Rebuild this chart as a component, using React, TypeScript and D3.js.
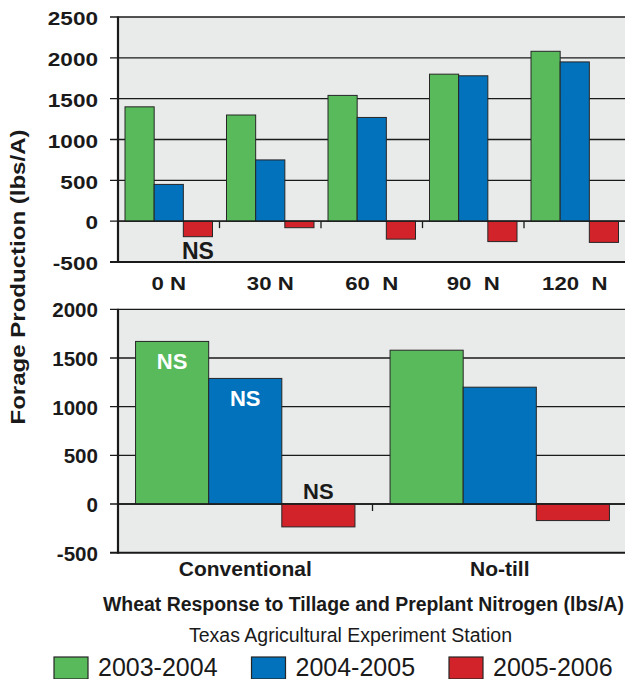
import React from "react";
import * as d3 from "d3";

const series = ["2003-2004", "2004-2005", "2005-2006"];
const seriesColors = ["#58BA5B", "#0172BB", "#D2232A"];

const topCategories = ["0 N", "30 N", "60  N", "90  N", "120  N"];
const top2003 = [1400, 1300, 1540, 1800, 2080];
const top2004 = [450, 750, 1270, 1780, 1950];
const top2005 = [-190, -80, -220, -250, -260];
const topTicks = [-500, 0, 500, 1000, 1500, 2000, 2500];

const bottomCategories = ["Conventional", "No-till"];
const bottom2003 = [1670, 1580];
const bottom2004 = [1290, 1200];
const bottom2005 = [-235, -170];
const bottomTicks = [-500, 0, 500, 1000, 1500, 2000];

// significance annotations: [panel, category index, series index, placement]
const nsTop = [{ cat: 0, ser: 2, place: "below", color: "#1a1a1a" }];
const nsBottom = [
  { cat: 0, ser: 0, place: "inside", color: "#ffffff" },
  { cat: 0, ser: 1, place: "inside", color: "#ffffff" },
  { cat: 0, ser: 2, place: "above0", color: "#1a1a1a" },
];

const yTitle = "Forage Production (lbs/A)";
const title = "Wheat Response to Tillage and Preplant Nitrogen (lbs/A)";
const subtitle = "Texas Agricultural Experiment Station";

const FONT = "'Liberation Sans', Arial, Helvetica, sans-serif";
const INK = "#1a1a1a";

type PanelProps = {
  cats: string[];
  values: number[][];
  ticks: number[];
  x0: number;
  x1: number;
  yTop: number;
  yBot: number;
  tickFont: number;
  tickScale: number;
  tickDy: number;
  labelFont: number;
  labelScale: number;
  labelY: number;
  ns: { cat: number; ser: number; place: string; color: string }[];
  nsFont: number;
};

function Panel(p: PanelProps) {
  const y = d3
    .scaleLinear()
    .domain([p.ticks[0], p.ticks[p.ticks.length - 1]])
    .range([p.yBot, p.yTop]);
  const x = d3.scaleBand<string>().domain(p.cats).range([p.x0, p.x1]).padding(0);
  const xs = d3
    .scaleBand<string>()
    .domain(series)
    .range([0, x.bandwidth()])
    .paddingInner(0)
    .paddingOuter(0.24);
  const y0 = y(0);
  return (
    <g>
      <rect x={p.x0} y={p.yTop} width={p.x1 - p.x0} height={p.yBot - p.yTop} fill="#E9EAEA" />
      {p.ticks.map((t) => (
        <line
          key={"g" + t}
          x1={p.x0 - 8}
          x2={p.x1}
          y1={y(t)}
          y2={y(t)}
          stroke={INK}
          strokeWidth={t === p.ticks[0] ? 2 : 1.3}
        />
      ))}
      {p.cats.slice(1).map((c) => (
        <line key={"t" + c} x1={x(c)} x2={x(c)} y1={y0} y2={y0 + 7} stroke={INK} strokeWidth={1.3} />
      ))}
      {p.cats.map((c, ci) =>
        series.map((s, si) => {
          const v = p.values[si][ci];
          const bx = (x(c) as number) + (xs(s) as number);
          return (
            <rect
              key={c + s}
              x={bx}
              y={Math.min(y(v), y0)}
              width={xs.bandwidth()}
              height={Math.abs(y(v) - y0)}
              fill={seriesColors[si]}
              stroke="#262626"
              strokeWidth={1}
            />
          );
        })
      )}
      <line x1={p.x0} x2={p.x1} y1={y0} y2={y0} stroke={INK} strokeWidth={1.3} />
      <line x1={p.x0} x2={p.x0} y1={p.yTop - 0.5} y2={p.yBot + 1} stroke={INK} strokeWidth={2.2} />
      {p.ticks.map((t) => (
        <text
          key={"l" + t}
          transform={`translate(${p.x0 - 20},${y(t) + p.tickDy}) scale(${p.tickScale},1)`}
          textAnchor="end"
          fontFamily={FONT}
          fontWeight="bold"
          fontSize={p.tickFont}
          fill={INK}
        >
          {t}
        </text>
      ))}
      {p.cats.map((c) => (
        <text
          key={"c" + c}
          transform={`translate(${(x(c) as number) + x.bandwidth() / 2},${p.labelY}) scale(${p.labelScale},1)`}
          textAnchor="middle"
          fontFamily={FONT}
          fontWeight="bold"
          fontSize={p.labelFont}
          fill={INK}
          style={{ whiteSpace: "pre" }}
        >
          {c}
        </text>
      ))}
      {p.ns.map((n, i) => {
        const c = p.cats[n.cat];
        const s = series[n.ser];
        const v = p.values[n.ser][n.cat];
        const cx = (x(c) as number) + (xs(s) as number) + xs.bandwidth() / 2;
        let ty = y0;
        if (n.place === "below") ty = y(v) + 22;
        else if (n.place === "inside") ty = y(v) + 27.5;
        else ty = y0 - 5.5;
        return (
          <text
            key={"ns" + i}
            x={cx}
            y={ty}
            textAnchor="middle"
            fontFamily={FONT}
            fontWeight="bold"
            fontSize={p.nsFont}
            fill={n.color}
          >
            NS
          </text>
        );
      })}
    </g>
  );
}

export default function App() {
  const W = 625;
  const H = 679;
  const legendX = d3.scaleLinear().domain([0, 1]).range([54, 251.5]);
  return (
    <svg
      width={W}
      height={H}
      viewBox={`0 0 ${W} ${H}`}
      style={{ position: "absolute", left: 0, top: 0, background: "#fff" }}
    >
      <Panel
        cats={topCategories}
        values={[top2003, top2004, top2005]}
        ticks={topTicks}
        x0={118}
        x1={625.5}
        yTop={17}
        yBot={262}
        tickFont={18.5}
        tickScale={1.22}
        tickDy={8.3}
        labelFont={18.5}
        labelScale={1.2}
        labelY={290}
        ns={nsTop}
        nsFont={23}
      />
      <Panel
        cats={bottomCategories}
        values={[bottom2003, bottom2004, bottom2005]}
        ticks={bottomTicks}
        x0={118}
        x1={627}
        yTop={309.3}
        yBot={552.7}
        tickFont={20}
        tickScale={1.03}
        tickDy={8}
        labelFont={20}
        labelScale={1.05}
        labelY={576}
        ns={nsBottom}
        nsFont={22}
      />
      <text
        transform="translate(25,277) rotate(-90)"
        textAnchor="middle"
        fontFamily={FONT}
        fontWeight="bold"
        fontSize={21}
        fill={INK}
        textLength={295}
        lengthAdjust="spacingAndGlyphs"
      >
        {yTitle}
      </text>
      <text
        x={103}
        y={611}
        fontFamily={FONT}
        fontWeight="bold"
        fontSize={19.5}
        fill={INK}
        textLength={521}
        lengthAdjust="spacingAndGlyphs"
      >
        {title}
      </text>
      <text x={350.5} y={641.5} textAnchor="middle" fontFamily={FONT} fontSize={19.5} fill={INK}>
        {subtitle}
      </text>
      {series.map((s, i) => (
        <g key={s} transform={`translate(${legendX(i)},0)`}>
          <rect x={0} y={657} width={34} height={22} fill={seriesColors[i]} stroke="#262626" strokeWidth={1.2} />
          <text x={44} y={675.5} fontFamily={FONT} fontSize={25} fill={INK}>
            {s}
          </text>
        </g>
      ))}
    </svg>
  );
}
